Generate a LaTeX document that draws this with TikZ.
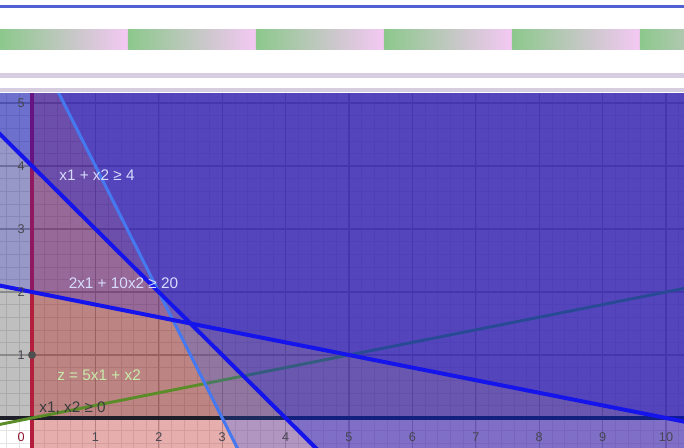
\documentclass[tikz,border=0pt]{standalone}
\usepackage{fontspec}
\setmainfont{Liberation Sans}
\definecolor{tbblue}{RGB}{80,96,208}
\definecolor{tbgreen}{RGB}{140,200,140}
\definecolor{tbpink}{RGB}{244,200,244}
\definecolor{tbnoise}{RGB}{214,206,224}
\definecolor{gridmaj}{RGB}{185,185,185}
\definecolor{gridmin}{RGB}{228,228,228}
\definecolor{redlayer}{RGB}{187,20,20}
\definecolor{blueA}{RGB}{20,80,255}
\definecolor{blueB}{RGB}{0,10,214}
\definecolor{blueC}{RGB}{0,0,240}
\definecolor{lineblue}{RGB}{20,20,235}
\definecolor{lightblue}{RGB}{70,120,240}
\definecolor{axisred}{RGB}{180,30,60}
\definecolor{axisblack}{RGB}{30,30,40}
\definecolor{zgreen}{RGB}{90,140,40}
\definecolor{lbllight}{RGB}{215,220,255}
\definecolor{lblgreen}{RGB}{200,235,170}
\definecolor{lbldark}{RGB}{60,60,60}
\definecolor{ticktext}{RGB}{70,70,80}
\definecolor{ptgray}{RGB}{80,80,80}
\begin{document}
\begin{tikzpicture}[x=47.55pt,y=47.25pt,
  lbl/.style={font=\fontsize{11.5}{13}\selectfont, inner sep=0pt},
  ticklbl/.style={font=\fontsize{9.5}{11}\selectfont, text=ticktext, inner sep=0pt},
  bndline/.style={line width=3pt, color=lineblue},
  layer/.style={fill opacity=#1},
]
\useasboundingbox (-0.505,-0.476) rectangle (10.284,6.635);
\fill[white] (-0.505,-0.476) rectangle (10.284,6.635);
% toolbar strip
\begin{scope}[shift={(-0.505,6.635)}, x=0.75pt, y=-0.75pt]
  \clip (0,0) rectangle (684,94);
  \fill[tbblue] (0,5) rectangle (684,8);
  \foreach \k in {0,...,5} {
    \shade[left color=tbgreen, right color=tbpink] (\k*128,30) rectangle (\k*128+128,50);
  }
  \fill[tbnoise] (0,73) rectangle (684,78);
  \fill[tbnoise] (0,88) rectangle (684,92);
\end{scope}
% named coordinates
\coordinate (a1) at (3.5,-1);   \coordinate (a2) at (0,6);
\coordinate (b1) at (5,-1);     \coordinate (b2) at (-2,6);
\coordinate (c1) at (-1,2.2);   \coordinate (c2) at (11,-0.2);
\coordinate (g1) at (-1,-0.2);  \coordinate (g2) at (11,2.2);
\coordinate (ry1) at (0,-1);    \coordinate (ry2) at (0,6);
\coordinate (bx1) at (-1,0);    \coordinate (bx2) at (11,0);
% plot
\begin{scope}
  \clip (-0.505,-0.476) rectangle (10.284,5.143);
  \draw[gridmin, line width=0.4pt] (-0.6,-0.6) grid[step=0.2] (10.4,5.4);
  \draw[gridmaj, line width=0.8pt] (-1,-1) grid[step=1] (11,6);
  \fill[black, layer=0.25] (bx1) -- (bx2) -- (11,6) -- (-1,6) -- cycle;
  \fill[redlayer, layer=0.34] (ry1) -- (11,-1) -- (11,6) -- (ry2) -- cycle;
  \draw[axisred, line width=2.8pt] (ry1) -- (ry2);
  \draw[axisblack, line width=3.5pt] (bx1) -- (bx2);
  \draw[zgreen, line width=2.2pt] (g1) -- (g2);
  \fill[blueA, layer=0.25] (a1) -- (a2) -- (11,6) -- (11,-1) -- cycle;
  \fill[blueB, layer=0.28] (b1) -- (b2) -- (11,6) -- (11,-1) -- cycle;
  \fill[blueC, layer=0.2] (c1) -- (c2) -- (11,6) -- (-1,6) -- cycle;
  \draw[lightblue, line width=2.3pt] (a1) -- (a2);
  \draw[bndline] (b1) -- (b2);
  \draw[bndline] (c1) -- (c2);
\end{scope}
% point
\fill[ptgray] (0,1) circle (3pt) node[coordinate] (p1) {};
% ticks
\foreach \i in {1,...,10} { \node[ticklbl] (tx\i) at (\i,-0.30) {\i}; }
\foreach \j in {1,...,5} { \node[ticklbl] (ty\j) at (-0.17,\j) {\j}; }
\node[ticklbl, text=axisred!80!black] (t0) at (-0.17,-0.30) {0};
% labels
\node[lbl, text=lbllight] (l1) at (1.025,3.857) {x1 + x2 ≥ 4};
\node[lbl, text=lbllight] (l2) at (1.443,2.135) {2x1 + 10x2 ≥ 20};
\node[lbl, text=lblgreen] (l3) at (1.057,0.683) {z = 5x1 + x2};
\node[lbl, text=lbldark] (l4) at (0.64,0.159) {x1, x2 ≥ 0};
\end{tikzpicture}
\end{document}
